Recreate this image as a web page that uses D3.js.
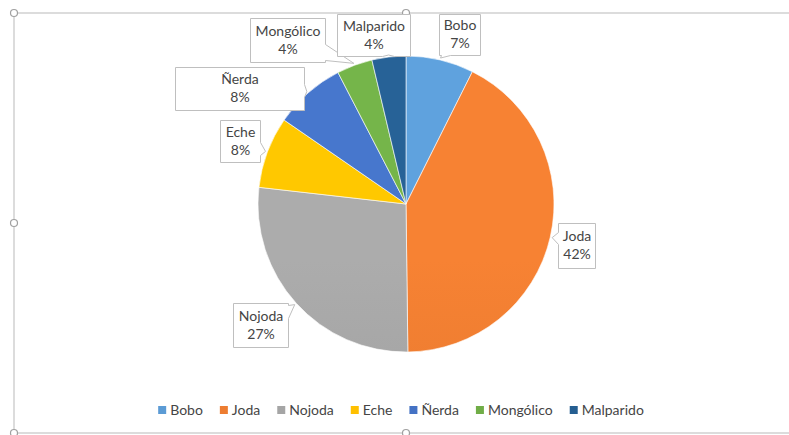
<!DOCTYPE html>
<html>
<head>
<meta charset="utf-8">
<script src="https://cdn.jsdelivr.net/npm/d3@7"></script>
<style>
  html, body { margin: 0; padding: 0; background: #ffffff; }
  svg { display: block; }
  text { font-family: Lato, "Open Sans", sans-serif; fill: #454545; }
</style>
</head>
<body>
<script>
// ---- data ----
const categories = ["Bobo", "Joda", "Nojoda", "Eche", "Ñerda", "Mongólico", "Malparido"];
const values = [7.4, 42.4, 27.0, 7.8, 7.8, 3.9, 3.7];
const colors = ["#5B9BD5", "#ED7D31", "#A5A5A5", "#FFC000", "#4472C4", "#70AD47", "#255E91"];

// ---- layout (callout boxes: x, y, w, h, side, base start, base end) ----
const calloutLayout = [
  [439, 14, 41, 41, "bottom", 441, 450],
  [558, 223, 37, 45, "left", 232, 244],
  [233, 303, 55, 44, "right", 305, 318],
  [220, 120, 40, 42, "right", 142, 155],
  [175, 67, 129, 43, "right", 84, 97],
  [250, 18, 75, 44, "right", 44, 60],
  [337, 14, 73, 42, "bottom", 382, 394]
];

const W = 789, H = 435;
const cx = 406, cy = 204, R = 148;

const svg = d3.select("body").append("svg").attr("width", W).attr("height", H);
const defs = svg.append("defs");

// frame
const frame = svg.append("g");
frame.append("line").attr("x1", 14).attr("y1", 13).attr("x2", W).attr("y2", 13)
  .attr("stroke", "#d0d0d0").attr("stroke-width", 1.5);
frame.append("line").attr("x1", 14).attr("y1", 433).attr("x2", W).attr("y2", 433)
  .attr("stroke", "#d0d0d0").attr("stroke-width", 1.5);
frame.append("line").attr("x1", 14).attr("y1", 13).attr("x2", 14).attr("y2", 433)
  .attr("stroke", "#d0d0d0").attr("stroke-width", 1.5);

// gradients
colors.forEach((c, i) => {
  const g = defs.append("linearGradient").attr("id", "g" + i)
    .attr("gradientUnits", "userSpaceOnUse")
    .attr("x1", 0).attr("y1", cy - R).attr("x2", 0).attr("y2", cy + R);
  g.append("stop").attr("offset", "0%").attr("stop-color", d3.color(c).brighter(0.12));
  g.append("stop").attr("offset", "100%").attr("stop-color", d3.color(c).darker(0.15));
});

const pie = d3.pie().sort(null).value(d => d.v);
const data = categories.map((c, i) => ({ c, v: values[i], i }));
const arcs = pie(data);
const arc = d3.arc().innerRadius(0).outerRadius(R);

const pg = svg.append("g").attr("transform", `translate(${cx},${cy})`);
pg.selectAll("path").data(arcs).enter().append("path")
  .attr("d", arc)
  .attr("fill", d => `url(#g${d.data.i})`)
  .attr("stroke", "#ffffff").attr("stroke-width", 0.6);

// callouts
function calloutPath(x, y, w, h, side, b0, b1, tx, ty) {
  const x1 = x + w, y1 = y + h;
  let p;
  if (side === "bottom") {
    p = [[x, y], [x1, y], [x1, y1], [b1, y1], [tx, ty], [b0, y1], [x, y1]];
  } else if (side === "left") {
    p = [[x, y], [x1, y], [x1, y1], [x, y1], [x, b1], [tx, ty], [x, b0]];
  } else if (side === "right") {
    p = [[x, y], [x1, y], [x1, b0], [tx, ty], [x1, b1], [x1, y1], [x, y1]];
  } else {
    p = [[x, y], [b0, y], [tx, ty], [b1, y], [x1, y], [x1, y1], [x, y1]];
  }
  return "M" + p.map(q => q.join(",")).join("L") + "Z";
}

const total = d3.sum(values);
const lg = svg.append("g");
arcs.forEach((a, i) => {
  const mid = (a.startAngle + a.endAngle) / 2;
  const tx = cx + (R + 2) * Math.sin(mid);
  const ty = cy - (R + 2) * Math.cos(mid);
  const [x, y, w, h, side, b0, b1] = calloutLayout[i];
  lg.append("path")
    .attr("d", calloutPath(x + 0.5, y + 0.5, w, h, side, b0 + 0.5, b1 + 0.5, tx, ty))
    .attr("fill", "#ffffff").attr("stroke", "#bfbfbf").attr("stroke-width", 1);
  const mx = x + w / 2 + 0.5, my = y + h / 2;
  lg.append("text").attr("x", mx).attr("y", my - 4.5)
    .attr("text-anchor", "middle").attr("font-size", 14).text(a.data.c);
  lg.append("text").attr("x", mx).attr("y", my + 13.5)
    .attr("text-anchor", "middle").attr("font-size", 14)
    .text(Math.round(a.data.v / total * 100) + "%");
});

// handles
[[14, 13], [406, 13], [14, 223], [14, 433], [406, 433]].forEach(([x, y]) => {
  frame.append("circle").attr("cx", x).attr("cy", y).attr("r", 3.5)
    .attr("fill", "#ffffff").attr("stroke", "#a0a0a0").attr("stroke-width", 1.2);
});

// legend
const leg = svg.append("g");
const items = [];
let xpos = 0;
categories.forEach((c, i) => {
  const g = leg.append("g");
  g.append("rect").attr("x", 0).attr("y", -4).attr("width", 8).attr("height", 8)
    .attr("fill", colors[i]);
  const t = g.append("text").attr("x", 12).attr("y", 5).attr("font-size", 14).text(c);
  const tw = t.node().getComputedTextLength();
  items.push({ g, x: xpos });
  xpos += 12 + tw + 17;
});
const legW = xpos - 17;
const legX0 = 401 - legW / 2;
items.forEach(it => it.g.attr("transform", `translate(${legX0 + it.x},410)`));
</script>
</body>
</html>
